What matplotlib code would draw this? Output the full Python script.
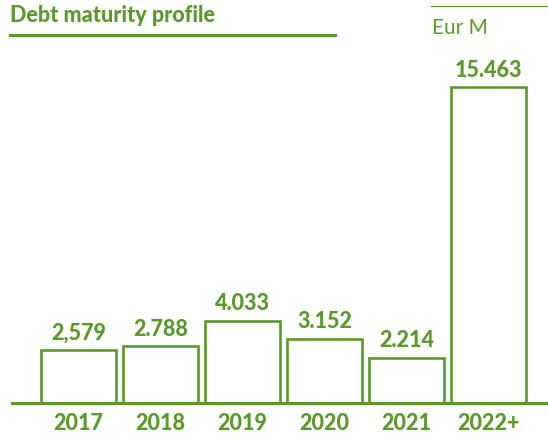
import matplotlib
matplotlib.use("Agg")
import matplotlib.pyplot as plt
from matplotlib.lines import Line2D

# ── data ──
years = ["2017", "2018", "2019", "2020", "2021", "2022+"]
values = [2.579, 2.788, 4.033, 3.152, 2.214, 15.463]
value_labels = ["2,579", "2.788", "4.033", "3.152", "2.214", "15.463"]

GREEN = "#5A992C"
plt.rcParams["font.family"] = ["Lato", "DejaVu Sans"]

W, H = 548, 441
fig = plt.figure(figsize=(W / 100, H / 100), dpi=100)
fig.patch.set_facecolor("white")

# axes placed in pixel terms: baseline at y=403, tallest bar top at y=87
left_px, right_px = 12, 548
base_px, top_px = 403, 87
ax = fig.add_axes([left_px / W, (H - base_px) / H,
                   (right_px - left_px) / W, (base_px - top_px) / H])
ax.set_xlim((left_px - 78.5) / 82, (right_px - 78.5) / 82)
ax.set_ylim(0, max(values))
ax.axis("off")

x = list(range(len(years)))
ax.bar(x, values, width=0.91, facecolor="white", edgecolor=GREEN,
       linewidth=1.9, clip_on=False, zorder=2)
ax.axhline(0, color=GREEN, linewidth=2.3, clip_on=False, zorder=3)

for i, (v, lab, yr) in enumerate(zip(values, value_labels, years)):
    ax.annotate(lab, xy=(i, v), xytext=(0, 7.5), textcoords="offset points",
                ha="center", va="baseline", fontsize=15.5, fontweight="black",
                color=GREEN)
    ax.annotate(yr, xy=(i, 0), xytext=(0, -19.5), textcoords="offset points",
                ha="center", va="baseline", fontsize=15.5, fontweight="black",
                color=GREEN)

# title + underline
fig.text(10 / W, 1 - 22 / H, "Debt maturity profile", ha="left",
         va="baseline", fontsize=15.5, fontweight="black", color=GREEN)
fig.add_artist(Line2D([10 / W, 335 / W], [1 - 35 / H, 1 - 35 / H],
                      color=GREEN, linewidth=2.3))

# unit label + thin top rule
fig.text(432 / W, 1 - 34 / H, "Eur M", ha="left", va="baseline",
         fontsize=15, color=GREEN)
fig.add_artist(Line2D([431 / W, 1.0], [1 - 6 / H, 1 - 6 / H],
                      color=GREEN, linewidth=0.8))

fig.savefig("out.png", dpi=100)
